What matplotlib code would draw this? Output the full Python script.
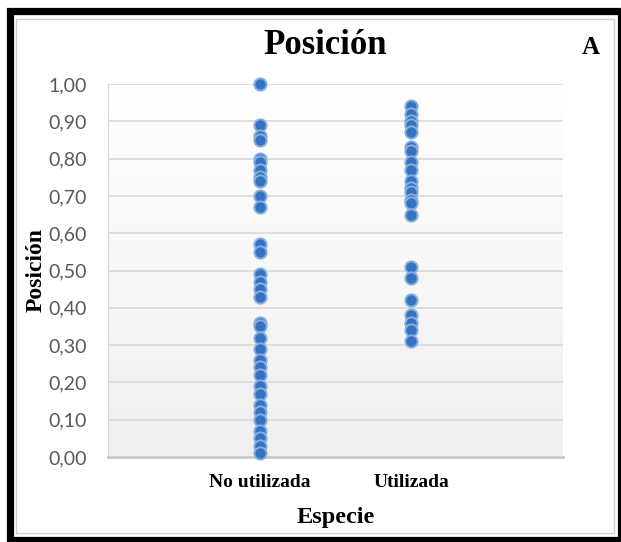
import matplotlib
matplotlib.use("Agg")
import matplotlib.pyplot as plt
import numpy as np
from matplotlib.patches import Rectangle

categories = ["No utilizada", "Utilizada"]

no_utilizada = [1.00, 0.89, 0.86, 0.85, 0.80, 0.79, 0.77, 0.75, 0.74, 0.70, 0.67,
                0.57, 0.55, 0.49, 0.47, 0.45, 0.43,
                0.36, 0.35, 0.32, 0.29, 0.26, 0.24, 0.22, 0.19, 0.17, 0.14,
                0.12, 0.10, 0.07, 0.05, 0.03, 0.01]
utilizada = [0.94, 0.92, 0.90, 0.89, 0.87, 0.83, 0.82, 0.79, 0.77, 0.74, 0.72,
             0.71, 0.69, 0.68, 0.65, 0.51, 0.48, 0.42, 0.38, 0.36, 0.34, 0.31]

yticks = np.arange(0, 1.01, 0.1)
ytick_labels = [("%.2f" % v).replace(".", ",") for v in yticks]

serif = "Liberation Serif"

fig = plt.figure(figsize=(6.21, 5.42), dpi=100)
ax = fig.add_axes([108 / 621, 1 - 457 / 542, 455 / 621, 373 / 542])

# light gradient background of the plot area (white on top, grey at bottom)
grad = np.linspace(0.0, 1.0, 256).reshape(-1, 1)
ax.imshow(grad, extent=[0, 1, 0, 1], transform=ax.transAxes, aspect="auto",
          cmap=matplotlib.colors.LinearSegmentedColormap.from_list("g", ["#ffffff", "#efefef"]),
          vmin=0, vmax=1, zorder=0)

for i, vals in enumerate([no_utilizada, utilizada]):
    ax.scatter(np.full(len(vals), i + 1), vals, s=78, c="#3573c1",
               edgecolors="#86aee0", linewidths=1.4, zorder=3, clip_on=False)

ax.set_xlim(0, 3)
ax.set_ylim(0, 1)
ax.set_yticks(yticks)
ax.set_yticklabels(ytick_labels, fontsize=14, color="#595959", family="Lato")
ax.set_xticks([1, 2])
ax.set_xticklabels(categories, fontsize=14, fontweight="bold", family=serif)
ax.tick_params(length=0)
ax.tick_params(axis="y", pad=15)
ax.tick_params(axis="x", pad=12)
ax.grid(axis="y", color="#d9d9d9", linewidth=1.2, zorder=1)
ax.set_axisbelow(True)

for s in ["top", "right"]:
    ax.spines[s].set_visible(False)
ax.spines["left"].set_color("#d9d9d9")
ax.spines["bottom"].set_color("#c8c8c8")
ax.spines["bottom"].set_linewidth(2)

ax.set_xlabel("Especie", fontsize=17.5, fontweight="bold", family=serif, va="center")
ax.xaxis.set_label_coords(0.5, -(517 - 457) / 373)
ax.set_ylabel("Posición", fontsize=17, fontweight="bold", family=serif, va="center")
ax.yaxis.set_label_coords(-(108 - 36) / 455, 0.5)

fig.text(325 / 621, 1 - 46 / 542, "Posición", fontsize=25, fontweight="bold",
         family=serif, ha="center", va="center")
fig.text(591 / 621, 1 - 47 / 542, "A", fontsize=18, fontweight="bold",
         family=serif, ha="center", va="center")

# chart border lines
fig.patches.append(Rectangle((16 / 621, 1 - 533 / 542), 598 / 621, 514 / 542,
                             transform=fig.transFigure, fill=False,
                             edgecolor="#d0d0d0", linewidth=1))
fig.patches.append(Rectangle((9.5 / 621, 1 - 539.5 / 542), 611 / 621, 529 / 542,
                             transform=fig.transFigure, fill=False,
                             edgecolor="black", linewidth=5.2))

plt.savefig("out.png", dpi=100)
